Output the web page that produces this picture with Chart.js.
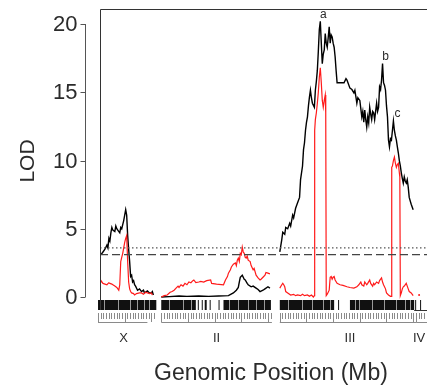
<!DOCTYPE html>
<html>
<head>
<meta charset="utf-8">
<script src="https://cdn.jsdelivr.net/npm/chart.js@4"></script>
<style>
  html, body { margin: 0; padding: 0; background: #fff; }
  canvas { display: block; }
</style>
</head>
<body>
<canvas id="lodChart" width="431" height="388"></canvas>
<script>
// positions along the genome (plot units), null = break between chromosomes
const blackPos = [1,3,5,7,8,9,10,11,12,13,15,16,17,18,20,21,22,23,24,25,26,27,28,29,30,31,32,33,34,35,36,38,40,42,44,45,47,48,50,52,53,54,
  55,
  62,70,80,88,100,110,120,130,135,138,140,141,142,144,146,147,149,150,153,155,158,160,162,165,167,170,172,
  175,
  182,184,185,187,188,190,192,193,195,196,198,200,202,203,205,206,207,208,209,210,211,212,213,214,215,217,218,219,220,221,222,223,224,225,226,227,228,229,230,231,232,233,234,235,236,237,238,239,240,
  247,249,250,251,253,255,257,258,260,261,263,264,265,266,267,268,269,270,271,272,273,274,275,276,277,278,280,281,282,283,284,285,286,287,288,289,290,291,292,293,294,295,296,297,298,299,300,301,302,303,304,305,306,307,308,309,310,311,312,313,315,317];
const blackLod = [3.1,3.3,3.5,3.8,3.6,4.3,4.1,4.7,5.1,4.9,4.8,5.2,5.0,4.9,4.7,5.1,5.0,5.3,5.6,6.0,6.4,6.0,4.5,3.5,2.6,1.5,1.6,1.1,1.2,0.9,0.8,0.5,0.6,0.4,0.5,0.3,0.4,0.45,0.3,0.3,0.4,0.15,
  null,
  0.0,0.03,0.08,0.05,0.08,0.05,0.08,0.1,0.3,0.5,0.7,1.1,1.45,1.6,1.3,1.25,1.0,0.9,0.75,0.8,0.65,0.55,0.4,0.5,0.6,0.75,0.65,
  null,
  3.3,4.2,4.75,4.6,5.1,5.0,5.4,5.2,6.0,5.8,6.5,6.9,7.3,8.6,9.6,10.8,11.3,12.2,12.8,13.2,14.0,14.65,15.15,14.6,14.2,13.9,15.15,15.8,16.6,18.0,19.6,20.2,18.6,17.1,17.8,18.1,19.3,18.6,18.3,19.0,19.8,18.6,19.2,19.05,18.6,18.3,17.6,16.6,15.7,
  15.7,16.0,15.9,15.7,15.3,15.2,14.95,15.15,14.2,14.6,14.4,13.8,13.2,13.6,12.8,13.7,13.0,12.45,13.2,12.75,13.9,13.4,13.0,13.6,13.5,13.0,14.2,13.6,13.9,15.4,15.2,15.9,17.1,15.7,15.5,15.15,14.0,13.2,11.5,11.0,11.6,11.5,12.2,12.9,12.2,11.8,11.5,11.0,10.55,10.0,9.6,9.1,8.7,8.35,8.8,8.5,8.35,8.6,8.05,7.3,6.8,6.4];

const redPos = [0,1,3,5,7,9,10,12,13,15,17,19,20,21,22,23,24,25,26,27,28,29,30,31,32,34,35,37,40,42,44,46,48,50,52,53,
  55,
  62,65,68,71,73,75,77,79,80,82,84,86,88,90,92,94,95,97,100,102,105,108,112,113,118,125,127,129,130,132,133,135,137,138,139,140,141,142,143,144,145,146,147,148,149,150,152,153,155,156,158,160,162,163,165,167,168,170,172,
  175,
  182,184,185,186,187,188,190,193,196,198,200,203,205,207,210,212,214,216,217,217.3,218,219,220,221,222,223,224,225,226,227,228,228.5,229,230,231,232,233,234,235,236,237,238,240,243,246,250,253,257,260,262,263,264,265,267,268,270,271,273,274,276,277,278,280,282,283,285,286,287,289,290,292,294,295,295.3,296,297,298,299,300,301,302,303,303.5,304,305,306,307,308,310,311,312,313,315,317,
  319,
  323];
const redLod = [1.1,1.2,1.0,0.95,0.9,1.05,1.0,0.95,0.9,0.8,0.7,0.5,0.9,2.6,2.9,3.2,3.6,4.0,4.3,4.5,2.6,1.1,0.6,0.4,0.3,0.25,0.15,0.25,0.3,0.3,0.2,0.35,0.3,0.25,0.3,0.15,
  null,
  0.0,0.1,0.15,0.35,0.4,0.5,0.65,0.8,0.7,0.9,0.8,1.0,0.9,1.1,1.05,1.2,1.25,1.05,1.1,1.15,1.1,1.2,1.25,1.0,0.95,0.9,1.25,1.5,1.75,2.0,2.2,2.4,2.5,2.3,2.7,2.85,2.6,3.2,3.1,3.65,3.3,3.2,2.9,2.85,3.0,2.7,2.6,2.3,2.0,2.1,1.6,1.4,1.25,1.3,1.45,1.6,1.8,1.75,1.7,
  null,
  0.65,0.9,1.0,0.9,0.75,0.4,0.3,0.15,0.2,0.1,0.15,0.1,0.2,0.1,0.15,0.05,0.15,0.0,0.1,12.2,13.0,13.5,14.2,15.0,16.1,16.8,15.7,14.4,13.9,14.4,14.8,13.5,0.1,0.2,0.35,0.5,1.45,1.5,1.3,1.45,1.5,1.25,1.0,0.9,0.85,0.75,0.7,0.65,0.75,0.9,1.0,1.1,0.9,0.8,1.1,0.9,1.0,1.25,1.0,0.8,1.0,0.9,1.1,1.0,1.2,1.4,1.1,0.9,0.6,0.3,0.15,0.05,0.05,9.5,9.6,10.0,10.25,9.8,9.5,9.7,9.8,9.1,8.8,0.1,0.3,0.6,0.75,0.8,1.0,0.8,0.6,0.4,0.3,0.1,
  null,
  0.15];

// significance thresholds (dotted, dashed)
const thresholds = [3.6, 3.1];

// y axis
const yTicks = [0, 5, 10, 15, 20];

// chromosomes
const chrNames = ['X', 'II', 'III', 'IV'];
const chrStart = [-2, 62, 182, 320];
const chrEnd = [57, 173, 318, 331];
const chrBracketEnd = [48, 174, 320, 331];
const chrLabelPos = [24, 118, 253, 323];

// marker rug: [start, end], plus lighter spots inside the dense blocks
const rugBlocks = [[-2, 57], [62, 97], [99, 100], [103, 104], [106, 108], [111, 112], [120, 121], [125, 173],
  [182, 237], [241, 242], [253, 318], [319, 320], [324, 325]];
const rugLight = [4, 18, 30, 37, 45, 50, 70, 84, 92, 131, 140, 150, 158, 166, 190, 204, 215, 226, 233, 258, 262, 275, 287, 300, 309, 314];

// peak labels
const peakNames = ['a', 'b', 'c'];
const peakPos = [223, 286, 298];
const peakLod = [20.2, 17.1, 12.9];

const FONT = '"Liberation Sans", Arial, sans-serif';
const TEXT = '#2b2b2b';

const decorations = {
    id: 'decorations',
    afterDraw(chart) {
        const { ctx, chartArea, scales } = chart;
        const xs = scales.x, ys = scales.y;
        const left = chartArea.left, top = chartArea.top, bottom = chartArea.bottom;
        ctx.save();

        // rug of markers
        ctx.fillStyle = '#111';
        rugBlocks.forEach(b => {
            const x0 = Math.max(xs.getPixelForValue(b[0]), left - 2);
            const x1 = xs.getPixelForValue(b[1]);
            ctx.fillRect(x0, bottom - 10, Math.max(1, x1 - x0), 10);
        });
        ctx.fillStyle = '#9a9a9a';
        rugLight.forEach(p => {
            ctx.fillRect(Math.round(xs.getPixelForValue(p)), bottom - 10, 1, 10);
        });

        // box
        ctx.strokeStyle = '#333';
        ctx.lineWidth = 1;
        ctx.beginPath();
        ctx.moveTo(left + 0.5, bottom);
        ctx.lineTo(left + 0.5, top + 0.5);
        ctx.lineTo(chartArea.right, top + 0.5);
        ctx.moveTo(xs.getPixelForValue(318), bottom + 0.5);
        ctx.lineTo(chartArea.right, bottom + 0.5);
        ctx.stroke();

        // chromosome tick axes
        ctx.strokeStyle = '#8a8a8a';
        ctx.lineWidth = 1;
        chrNames.forEach((name, i) => {
            ctx.beginPath();
            for (let p = chrStart[i], k = 0; p <= chrEnd[i] + 0.01; p += 2.7, k++) {
                const px = Math.round(xs.getPixelForValue(p)) + 0.5;
                if (px < left - 2 || px > chartArea.right) continue;
                ctx.moveTo(px, bottom + 3);
                ctx.lineTo(px, k % 10 === 0 ? bottom + 12 : bottom + 9);
            }
            const bx0 = Math.max(xs.getPixelForValue(chrStart[i]), left - 2);
            const bx1 = Math.min(xs.getPixelForValue(chrBracketEnd[i]), chartArea.right);
            ctx.moveTo(bx0, bottom + 12.5);
            ctx.lineTo(bx1, bottom + 12.5);
            ctx.stroke();

            ctx.fillStyle = TEXT;
            ctx.font = '13px ' + FONT;
            ctx.textAlign = 'center';
            ctx.textBaseline = 'middle';
            ctx.fillText(name, xs.getPixelForValue(chrLabelPos[i]), bottom + 28);
        });

        // y axis, offset to the left
        const ax = left - 14.5;
        ctx.strokeStyle = '#555';
        ctx.beginPath();
        ctx.moveTo(ax, ys.getPixelForValue(yTicks[0]));
        ctx.lineTo(ax, ys.getPixelForValue(yTicks[yTicks.length - 1]));
        yTicks.forEach(t => {
            const py = Math.round(ys.getPixelForValue(t)) + 0.5;
            ctx.moveTo(ax, py);
            ctx.lineTo(ax - 5, py);
        });
        ctx.stroke();
        ctx.fillStyle = TEXT;
        ctx.font = '22px ' + FONT;
        ctx.textAlign = 'right';
        ctx.textBaseline = 'middle';
        yTicks.forEach(t => ctx.fillText(String(t), ax - 8, ys.getPixelForValue(t) + 1));

        // axis titles
        ctx.save();
        ctx.translate(34, 161);
        ctx.rotate(-Math.PI / 2);
        ctx.textAlign = 'center';
        ctx.textBaseline = 'alphabetic';
        ctx.font = '21px ' + FONT;
        ctx.fillText('LOD', 0, 0);
        ctx.restore();

        ctx.textAlign = 'center';
        ctx.textBaseline = 'alphabetic';
        ctx.font = '23px ' + FONT;
        ctx.fillText('Genomic Position (Mb)', 271, 380);

        // peak labels
        ctx.font = '12px ' + FONT;
        ctx.textBaseline = 'bottom';
        peakNames.forEach((n, i) => {
            ctx.fillText(n, xs.getPixelForValue(peakPos[i]) + 3, ys.getPixelForValue(peakLod[i]) - 1);
        });

        ctx.restore();
    }
};

const toPoints = (pos, lod) => pos.map((x, i) => ({ x: x, y: lod[i] }));

new Chart(document.getElementById('lodChart'), {
    type: 'line',
    data: {
        datasets: [
            { data: [{ x: 0, y: thresholds[0] }, { x: 331, y: thresholds[0] }], borderColor: '#555', borderWidth: 1.3, borderDash: [1.5, 2.5] },
            { data: [{ x: 0, y: thresholds[1] }, { x: 331, y: thresholds[1] }], borderColor: '#444', borderWidth: 1.3, borderDash: [8, 4] },
            { data: toPoints(redPos, redLod), borderColor: '#ff1a1a', borderWidth: 1.2, spanGaps: false, pointRadius: (c) => c.dataIndex === redPos.length - 1 ? 1 : 0, pointBackgroundColor: '#ff1a1a', pointBorderWidth: 0 },
            { data: toPoints(blackPos, blackLod), borderColor: '#000', borderWidth: 1.4, spanGaps: false }
        ]
    },
    options: {
        responsive: false,
        animation: false,
        devicePixelRatio: 1,
        layout: { padding: { left: 100, right: 0, top: 9, bottom: 78 } },
        elements: { point: { radius: 0 }, line: { tension: 0 } },
        plugins: { legend: { display: false }, tooltip: { enabled: false } },
        scales: {
            x: { type: 'linear', min: 0, max: 331, display: false },
            y: { min: -0.95, max: 21.1, display: false }
        }
    },
    plugins: [decorations]
});
</script>
</body>
</html>
